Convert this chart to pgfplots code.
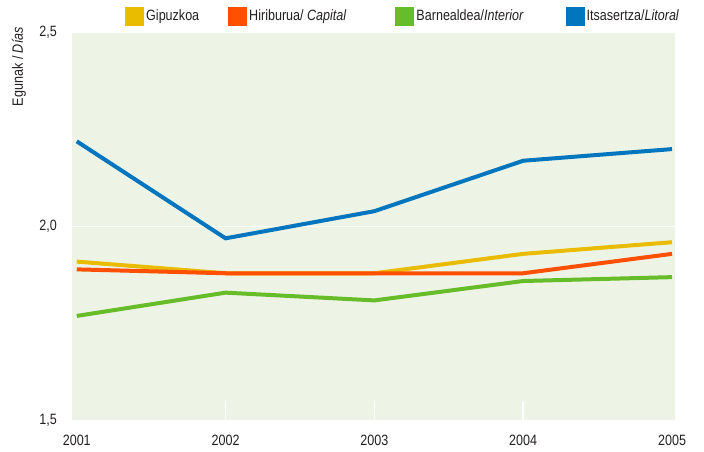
\documentclass[border=0pt]{standalone}
\usepackage{fontspec}
\setmainfont{Liberation Sans}[FakeStretch=0.84]
\usepackage{pgfplots}
\pgfplotsset{compat=1.18}
\definecolor{cyel}{HTML}{E9BC00}
\definecolor{cred}{HTML}{FF4F00}
\definecolor{cgrn}{HTML}{66BC29}
\definecolor{cblu}{HTML}{0076BE}
\definecolor{cbg}{HTML}{EEF4E5}
\definecolor{ctxt}{HTML}{231F20}
\begin{document}
\fontsize{15}{18}\selectfont
\begin{tikzpicture}
\useasboundingbox (-72bp,-31.3bp) rectangle (632bp,420.7bp);
\begin{axis}[
  at={(0,0)}, anchor=south west,
  scale only axis, width=603bp, height=388bp,
  xmin=2000.968, xmax=2005.02,
  ymin=1.5, ymax=2.5,
  axis background/.style={fill=cbg},
  axis line style={draw=none},
  xtick={2001,2002,2003,2004,2005},
  xticklabels={2001,2002,2003,2004,2005},
  ytick={1.5,2,2.5},
  yticklabels={{1,5},{2,0},{2,5}},
  xtick style={draw=none}, ytick style={draw=none},
  xtick pos=bottom,
  ymajorgrids=true,
  major grid style={white, line width=1.6bp},
  extra x ticks={2002,2003,2004},
  extra x tick labels={},
  extra x tick style={major tick length=20bp, tick align=inside, xtick pos=bottom, xtick style={draw=white, line width=1.6bp}},
  tick label style={font=\fontsize{15}{18}\selectfont, text=ctxt},
  yticklabel style={anchor=east, inner sep=0pt, xshift=-15bp},
  xticklabel style={anchor=north, inner sep=0pt, yshift=-14bp},
  legend columns=4,
  legend style={at={(axis description cs:0,1)}, anchor=west, xshift=53bp, yshift=16.5bp,
    draw=none, fill=none, inner sep=0pt, font=\fontsize{15}{18}\selectfont, text=ctxt,
    nodes={inner sep=2bp},
    /tikz/column 2/.style={column sep=27bp},
    /tikz/column 4/.style={column sep=47bp},
    /tikz/column 6/.style={column sep=40bp}},
  legend image code/.code={\fill[#1] (0bp,-7.5bp) rectangle (15bp,7.5bp);},
  every axis plot/.append style={line width=4bp},
  clip=false,
]
\addplot[cyel] coordinates {(2001,1.91) (2002,1.88) (2003,1.88) (2004,1.93) (2005,1.96)};
\addlegendentry{Gipuzkoa}
\addplot[cred] coordinates {(2001,1.89) (2002,1.88) (2003,1.88) (2004,1.88) (2005,1.93)};
\addlegendentry{Hiriburua/ \textit{Capital}}
\addplot[cgrn] coordinates {(2001,1.77) (2002,1.83) (2003,1.81) (2004,1.86) (2005,1.87)};
\addlegendentry{Barnealdea/\textit{Interior}}
\addplot[cblu] coordinates {(2001,2.22) (2002,1.97) (2003,2.04) (2004,2.17) (2005,2.20)};
\addlegendentry{Itsasertza/\textit{Litoral}}
\node[rotate=90, anchor=east, inner sep=0pt, text=ctxt] at ([xshift=-53bp, yshift=5.7bp]axis description cs:0,1) {Egunak / \textit{Días}};
\end{axis}
\end{tikzpicture}
\end{document}
